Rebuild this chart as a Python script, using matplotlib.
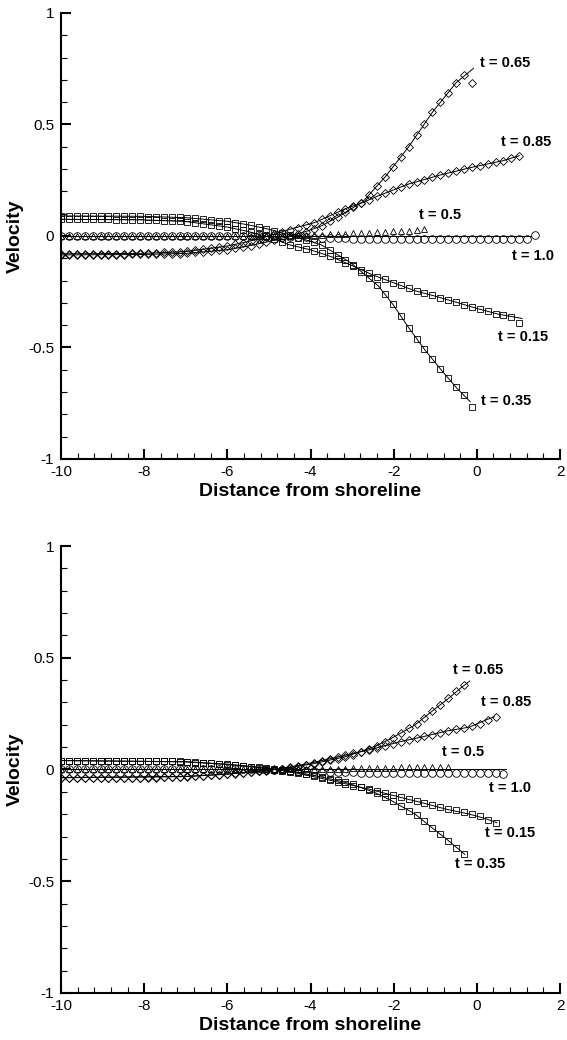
import matplotlib
matplotlib.use("Agg")
import matplotlib.pyplot as plt
import numpy as np
from matplotlib.ticker import MultipleLocator, FormatStrFormatter

plt.rcParams["font.family"] = ["Liberation Sans", "DejaVu Sans"]
plt.rcParams["axes.unicode_minus"] = False

# numerical mesh: first node at x = -10, spacing 0.19
X0 = -10.0
DX = 0.19

# ---------------- upper panel ----------------
# exact solution (lines)
up_x_015 = [-10, -8, -7, -6, -5.5, -5, -4.5, -4, -3.5, -3, -2.5, -2, -1.5, -1, -0.5, 0, 0.5, 1.09]
up_v_015 = [0.075, 0.072, 0.065, 0.04, 0.02, -0.005, -0.04, -0.062, -0.093, -0.133, -0.175, -0.21,
            -0.245, -0.27, -0.297, -0.325, -0.35, -0.37]
up_x_035 = [-10, -8, -7, -6, -5.5, -5, -4.5, -4.11, -3.74, -3.34, -3.02, -2.37, -2.01, -1.64, -1.25,
            -0.86, -0.48, -0.16]
up_v_035 = [0.09, 0.088, 0.082, 0.066, 0.05, 0.03, 0.005, -0.018, -0.04, -0.085, -0.122, -0.224, -0.309,
            -0.411, -0.511, -0.60, -0.683, -0.743]
up_x_05 = [-10, -1.26]
up_v_05 = [0.0, 0.0]
up_x_065 = [-10, -8, -7, -6, -5.5, -5, -4.5, -4.11, -3.74, -3.34, -3.02, -2.74, -2.2, -1.64, -1.06, -0.5, -0.08]
up_v_065 = [-0.085, -0.083, -0.078, -0.062, -0.045, -0.025, 0.0, 0.02, 0.045, 0.085, 0.122, 0.154, 0.266,
            0.40, 0.557, 0.687, 0.752]
up_x_085 = [-10, -8, -7, -6, -5.5, -5, -4.5, -3.9, -3.14, -2.78, -2.37, -1.64, -0.87, -0.12, 0.64, 1.02]
up_v_085 = [-0.08, -0.078, -0.07, -0.045, -0.025, 0.0, 0.03, 0.06, 0.124, 0.147, 0.18, 0.233, 0.274,
            0.308, 0.338, 0.36]
up_x_10 = [-10, 1.3]
up_v_10 = [0.0, 0.0]

# numerical solution (markers) at mesh nodes
up_m_015 = [0.075, 0.075, 0.075, 0.075, 0.074, 0.074, 0.074, 0.073, 0.073, 0.073, 0.072, 0.072, 0.070,
            0.069, 0.068, 0.066, 0.064, 0.059, 0.054, 0.050, 0.045, 0.040, 0.033, 0.025, 0.017, 0.008,
            -0.002, -0.014, -0.027, -0.041, -0.049, -0.057, -0.067, -0.078, -0.090, -0.105, -0.121,
            -0.136, -0.151, -0.167, -0.182, -0.195, -0.209, -0.222, -0.235, -0.248, -0.257, -0.266,
            -0.277, -0.287, -0.297, -0.308, -0.318, -0.329, -0.338, -0.348, -0.356, -0.362, -0.390]
up_m_035 = [0.090, 0.090, 0.090, 0.090, 0.089, 0.089, 0.089, 0.088, 0.088, 0.088, 0.088, 0.087, 0.086,
            0.085, 0.084, 0.083, 0.081, 0.079, 0.075, 0.072, 0.069, 0.066, 0.060, 0.054, 0.047, 0.040,
            0.032, 0.023, 0.014, 0.005, -0.007, -0.018, -0.029, -0.041, -0.062, -0.084, -0.106, -0.130,
            -0.160, -0.190, -0.219, -0.262, -0.306, -0.359, -0.411, -0.460, -0.509, -0.552, -0.595,
            -0.637, -0.679, -0.713, -0.765]
up_m_05 = [0.0] * 29 + [0.002, 0.003, 0.004, 0.005, 0.006, 0.007, 0.008, 0.010, 0.012, 0.013, 0.015,
                        0.017, 0.019, 0.021, 0.022, 0.024, 0.027, 0.030]
up_m_065 = [-0.085, -0.085, -0.085, -0.085, -0.085, -0.085, -0.085, -0.084, -0.084, -0.083, -0.083,
            -0.082, -0.082, -0.081, -0.080, -0.079, -0.077, -0.074, -0.071, -0.068, -0.065, -0.062,
            -0.056, -0.050, -0.043, -0.035, -0.027, -0.019, -0.010, 0.000, 0.010, 0.020, 0.033, 0.046,
            0.065, 0.084, 0.106, 0.128, 0.150, 0.185, 0.225, 0.264, 0.309, 0.355, 0.400, 0.451, 0.503,
            0.554, 0.599, 0.643, 0.687, 0.722, 0.685]
up_m_085 = [-0.080, -0.080, -0.080, -0.080, -0.080, -0.080, -0.080, -0.079, -0.079, -0.078, -0.078,
            -0.077, -0.076, -0.074, -0.073, -0.071, -0.069, -0.064, -0.059, -0.055, -0.050, -0.045,
            -0.038, -0.030, -0.022, -0.013, -0.003, 0.007, 0.018, 0.028, 0.038, 0.049, 0.059, 0.074,
            0.090, 0.106, 0.122, 0.135, 0.147, 0.162, 0.178, 0.192, 0.205, 0.219, 0.233, 0.243, 0.253,
            0.263, 0.273, 0.282, 0.291, 0.299, 0.308, 0.315, 0.323, 0.330, 0.338, 0.349, 0.360]
up_m_10 = [0.0] * 26 + [-0.001, -0.002, -0.003, -0.004, -0.005, -0.006, -0.007, -0.008, -0.009,
                        -0.010, -0.011, -0.012] + [-0.013] * 22 + [0.004]

# ---------------- lower panel ----------------
lo_x_015 = [-10, -7, -6, -5, -4.5, -4.09, -3.37, -2.61, -1.85, -1.29, -0.73, -0.17, 0.21, 0.48]
lo_v_015 = [0.04, 0.034, 0.022, 0.004, -0.01, -0.025, -0.055, -0.087, -0.124, -0.15, -0.178, -0.2,
            -0.22, -0.238]
lo_x_035 = [-10, -7, -6, -5, -4.5, -3.93, -3.17, -2.8, -2.43, -2.05, -1.49, -1.09, -0.73, -0.29]
lo_v_035 = [0.04, 0.035, 0.024, 0.006, -0.007, -0.026, -0.057, -0.08, -0.105, -0.14, -0.199, -0.259,
            -0.311, -0.38]
lo_x_05 = [-10, -0.7]
lo_v_05 = [0.0, 0.0]
lo_x_065 = [-10, -7, -6, -5, -4.5, -3.93, -3.17, -2.8, -2.43, -2.05, -1.49, -1.09, -0.73, -0.35, -0.17]
lo_v_065 = [-0.037, -0.032, -0.021, -0.004, 0.008, 0.026, 0.057, 0.08, 0.105, 0.14, 0.199, 0.259,
            0.311, 0.37, 0.396]
lo_x_085 = [-10, -7, -6, -5, -4.5, -4.09, -3.37, -2.61, -1.85, -1.29, -0.73, -0.17, 0.21, 0.42]
lo_v_085 = [-0.036, -0.031, -0.020, -0.003, 0.011, 0.025, 0.055, 0.087, 0.124, 0.147, 0.172, 0.19,
            0.221, 0.236]
lo_x_10 = [-10, 0.69]
lo_v_10 = [0.0, 0.0]

lo_m_015 = [0.040] * 11 + [0.039, 0.038, 0.037, 0.036, 0.035, 0.033, 0.031, 0.029, 0.027, 0.024, 0.021,
                           0.018, 0.015, 0.011, 0.007, 0.003, -0.001, -0.005, -0.010, -0.015, -0.020,
                           -0.029, -0.038, -0.046, -0.055, -0.064, -0.072, -0.080, -0.088, -0.097,
                           -0.106, -0.115, -0.124, -0.133, -0.141, -0.150, -0.158, -0.167, -0.175,
                           -0.183, -0.190, -0.198, -0.210, -0.225, -0.240]
lo_m_035 = [0.040] * 12 + [0.039, 0.038, 0.037, 0.036, 0.035, 0.033, 0.031, 0.029, 0.026, 0.023, 0.020,
                           0.017, 0.013, 0.009, 0.005, 0.001, -0.003, -0.008, -0.013, -0.019, -0.026,
                           -0.034, -0.042, -0.049, -0.057, -0.067, -0.080, -0.093, -0.107, -0.124,
                           -0.143, -0.163, -0.184, -0.205, -0.232, -0.260, -0.290, -0.320, -0.350,
                           -0.378]
lo_m_05 = [0.0] * 29 + [0.001, 0.001, 0.002, 0.002, 0.003, 0.003, 0.004, 0.004, 0.005, 0.005, 0.006,
                        0.006, 0.007, 0.008, 0.009, 0.010, 0.010, 0.011, 0.012, 0.012, 0.013]
lo_m_065 = [-0.037] * 11 + [-0.036, -0.036, -0.035, -0.034, -0.033, -0.032, -0.030, -0.028, -0.026,
                            -0.024, -0.021, -0.018, -0.015, -0.012, -0.008, -0.005, -0.001, 0.003, 0.008,
                            0.013, 0.019, 0.026, 0.034, 0.042, 0.049, 0.057, 0.067, 0.080, 0.093, 0.107,
                            0.124, 0.143, 0.163, 0.184, 0.205, 0.232, 0.260, 0.290, 0.322, 0.352, 0.378]
lo_m_085 = [-0.036] * 11 + [-0.035, -0.035, -0.034, -0.033, -0.032, -0.031, -0.029, -0.027, -0.025,
                            -0.023, -0.020, -0.017, -0.014, -0.011, -0.007, -0.004, 0.000, 0.004, 0.009,
                            0.014, 0.020, 0.030, 0.038, 0.046, 0.055, 0.064, 0.072, 0.080, 0.088, 0.097,
                            0.106, 0.115, 0.124, 0.132, 0.140, 0.148, 0.156, 0.165, 0.173, 0.180, 0.187,
                            0.193, 0.205, 0.222, 0.237]
lo_m_10 = [0.0] * 25 + [-0.001, -0.002, -0.003, -0.004, -0.005, -0.006, -0.007, -0.008, -0.009, -0.010,
                        -0.011, -0.012, -0.013, -0.014, -0.015] + [-0.016] * 16 + [-0.020]


def mesh(vals):
    return X0 + DX * np.arange(len(vals))


def draw_series(ax, lx, lv, mv, marker, ms):
    ax.plot(lx, lv, color="black", lw=0.7, zorder=2)
    ax.plot(mesh(mv), mv, ls="none", marker=marker, ms=ms, mfc="none", mec="black", mew=0.6, zorder=3)


def style_axes(ax):
    ax.set_xlim(-10, 2)
    ax.set_ylim(-1, 1)
    for side in ("top", "right"):
        ax.spines[side].set_visible(False)
    for side in ("left", "bottom"):
        ax.spines[side].set_linewidth(1.5)
    ax.xaxis.set_major_locator(MultipleLocator(2))
    ax.xaxis.set_minor_locator(MultipleLocator(0.4))
    ax.yaxis.set_major_locator(MultipleLocator(0.5))
    ax.yaxis.set_minor_locator(MultipleLocator(0.1))
    ax.yaxis.set_major_formatter(FormatStrFormatter("%g"))
    ax.xaxis.set_major_formatter(FormatStrFormatter("%g"))
    ax.tick_params(which="major", direction="in", length=7.5, width=1.5, labelsize=11)
    ax.tick_params(which="minor", direction="in", length=4.5, width=0.8)
    ax.tick_params(axis="x", which="major", pad=4)
    ax.tick_params(axis="y", which="major", pad=5)
    ax.set_xlabel("Distance from shoreline", fontsize=14, fontweight="bold")
    ax.set_ylabel("Velocity", fontsize=14, fontweight="bold")
    ax.xaxis.set_label_coords(0.5, -0.054)
    ax.yaxis.set_label_coords(-0.075, 0.5)
    # the -1 label sits a little above the axis corner, clear of the -10 below it
    ax.get_yticklabels()[0].set_verticalalignment("bottom")


fig = plt.figure(figsize=(5.67, 10.4), dpi=100)
ax1 = fig.add_axes([0.1076, 0.5587, 0.8801, 0.4288])
ax2 = fig.add_axes([0.1076, 0.0452, 0.8801, 0.4298])

draw_series(ax1, up_x_015, up_v_015, up_m_015, "s", 4.3)
draw_series(ax1, up_x_035, up_v_035, up_m_035, "s", 4.3)
draw_series(ax1, up_x_05, up_v_05, up_m_05, "^", 5)
draw_series(ax1, up_x_065, up_v_065, up_m_065, "D", 4.3)
draw_series(ax1, up_x_085, up_v_085, up_m_085, "D", 4.3)
draw_series(ax1, up_x_10, up_v_10, up_m_10, "o", 5.5)

draw_series(ax2, lo_x_015, lo_v_015, lo_m_015, "s", 4.3)
draw_series(ax2, lo_x_035, lo_v_035, lo_m_035, "s", 4.3)
draw_series(ax2, lo_x_05, lo_v_05, lo_m_05, "^", 5)
draw_series(ax2, lo_x_065, lo_v_065, lo_m_065, "D", 4.3)
draw_series(ax2, lo_x_085, lo_v_085, lo_m_085, "D", 4.3)
draw_series(ax2, lo_x_10, lo_v_10, lo_m_10, "o", 5.5)

lbl = dict(fontsize=10.5, fontweight="bold", ha="center", va="center")
ax1.text(0.67, 0.776, "t = 0.65", **lbl)
ax1.text(1.18, 0.42, "t = 0.85", **lbl)
ax1.text(-0.89, 0.094, "t = 0.5", **lbl)
ax1.text(1.35, -0.09, "t = 1.0", **lbl)
ax1.text(1.11, -0.453, "t = 0.15", **lbl)
ax1.text(0.70, -0.74, "t = 0.35", **lbl)

ax2.text(0.02, 0.445, "t = 0.65", **lbl)
ax2.text(0.70, 0.302, "t = 0.85", **lbl)
ax2.text(-0.34, 0.078, "t = 0.5", **lbl)
ax2.text(0.79, -0.083, "t = 1.0", **lbl)
ax2.text(0.79, -0.284, "t = 0.15", **lbl)
ax2.text(0.07, -0.423, "t = 0.35", **lbl)

for ax in (ax1, ax2):
    style_axes(ax)

fig.savefig("out.png", dpi=100)
